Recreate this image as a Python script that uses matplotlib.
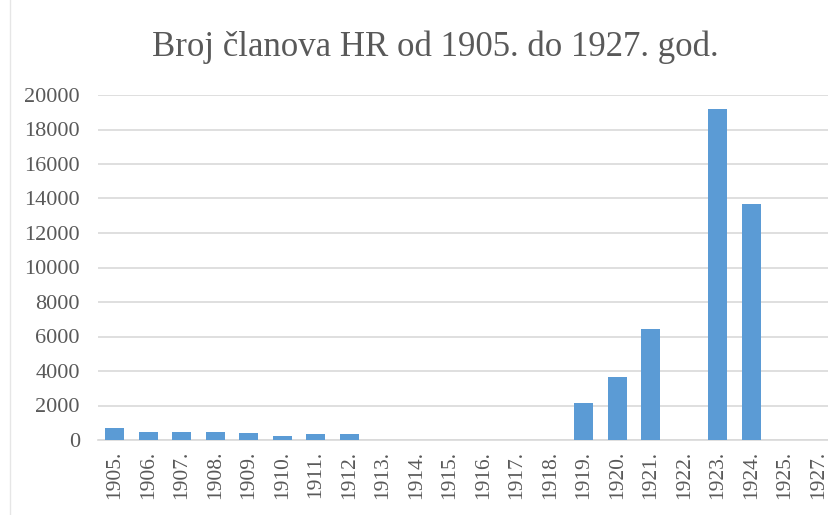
import matplotlib
matplotlib.use("Agg")
import matplotlib.pyplot as plt
from matplotlib.lines import Line2D

years = ["1905.", "1906.", "1907.", "1908.", "1909.", "1910.", "1911.", "1912.",
         "1913.", "1914.", "1915.", "1916.", "1917.", "1918.", "1919.", "1920.",
         "1921.", "1922.", "1923.", "1924.", "1925.", "1927."]
members = [700, 440, 480, 440, 405, 230, 325, 350,
           0, 0, 0, 0, 0, 0, 2130, 3630,
           6420, 0, 19190, 13700, 0, 0]
y_ticks = [0, 2000, 4000, 6000, 8000, 10000, 12000, 14000, 16000, 18000, 20000]

plt.rcParams["font.family"] = ["Liberation Serif", "DejaVu Serif"]
text_color = "#595959"

W, H = 829, 515
fig = plt.figure(figsize=(W / 100, H / 100), dpi=100)
ax = fig.add_axes([98 / W, 1 - 440 / H, (835 - 98) / W, (440 - 95) / H])

x = range(len(years))
ax.bar(x, members, width=0.58, color="#5B9BD5", zorder=3)

ax.set_xlim(-0.5, len(years) - 0.5)
ax.set_ylim(0, 20000)
ax.set_yticks(y_ticks)
ax.set_yticklabels([str(v) for v in y_ticks], fontsize=16, color=text_color)
ax.set_xticks(list(x))
ax.set_xticklabels(years, rotation=90, fontsize=15.5, color=text_color)
ax.tick_params(axis="both", length=0)
ax.tick_params(axis="y", pad=13)
ax.tick_params(axis="x", pad=8)

ax.grid(axis="y", color="#D9D9D9", linewidth=1.2, zorder=0)
for s in ["top", "right", "left"]:
    ax.spines[s].set_visible(False)
ax.spines["bottom"].set_color("#D9D9D9")
ax.spines["bottom"].set_linewidth(1.2)

fig.text(435 / W, 1 - 47 / H, "Broj članova HR od 1905. do 1927. god.",
         ha="center", va="center", fontsize=25, color=text_color)

# faint chart border on the left edge
fig.add_artist(Line2D([10 / W, 10 / W], [0, 1], transform=fig.transFigure,
                      color="#E6E6E6", linewidth=1))

fig.savefig("out.png", dpi=100)
